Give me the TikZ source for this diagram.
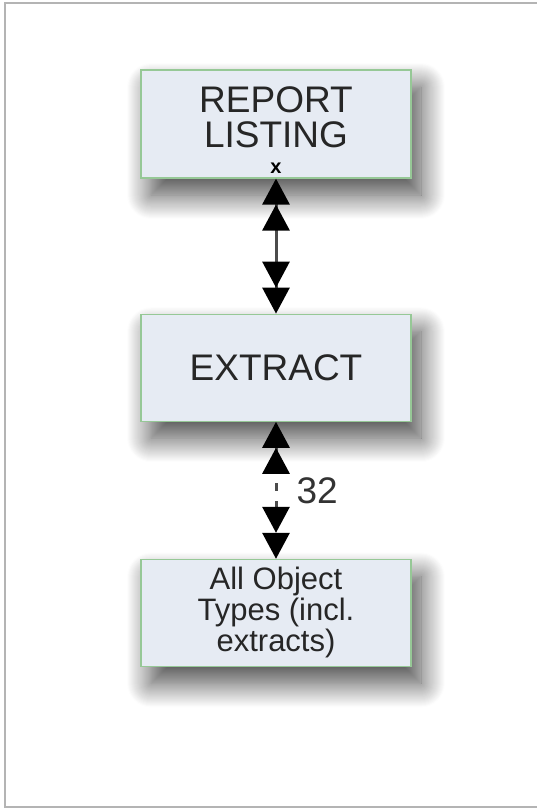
\documentclass[tikz,border=0pt]{standalone}
\usepackage{fontspec}
\setmainfont{Liberation Sans}
\usepackage{tikz}
\usetikzlibrary{positioning,arrows.meta,shadows.blur}
\definecolor{boxfill}{RGB}{230,235,243}
\definecolor{boxline}{RGB}{150,200,150}
\definecolor{frameline}{RGB}{180,180,180}

\begin{document}
\begin{tikzpicture}[
  box/.style={rectangle, draw=boxline, line width=1.2pt, fill=boxfill, minimum width=270pt, minimum height=107pt, align=center, text=black!85,
    blur shadow={shadow xshift=10pt, shadow yshift=-17pt, shadow blur radius=24pt, shadow blur steps=24, shadow opacity=72}},
  bigtext/.style={font=\fontsize{37}{35}\selectfont},
  smalltext/.style={font=\fontsize{31}{31}\selectfont},
  tips/.style={{Triangle[length=26pt,width=27pt,sep=0pt,color=black] Triangle[length=26pt,width=27pt,sep=0pt,color=black]}-{Triangle[length=26pt,width=27pt,sep=0pt,color=black] Triangle[length=26pt,width=27pt,sep=0pt,color=black]}},
  link/.style={tips, line width=3pt, draw=black!70}
]
\useasboundingbox (0,0) rectangle (537pt,-811pt);
\draw[frameline, line width=2pt] (537pt,-3pt) -- (5pt,-3pt) -- (5pt,-807pt) -- (537pt,-807pt);

\node[box, bigtext, minimum height=108pt, text depth=14pt] (report) at (276pt,-124pt) {REPORT\\LISTING};
\node[font=\fontsize{20}{20}\selectfont\bfseries, inner sep=0pt, above=5pt of report.south] (rlx) {x};
\node[box, bigtext, below=135pt of report] (extract) {EXTRACT};
\node[box, smalltext, below=137pt of extract] (alltypes) {All Object\\Types (incl.\\extracts)};

\draw[link] (report) -- (extract);
\draw[link, dashed, dash pattern=on 8pt off 10pt] (extract) -- (alltypes)
  node[midway, right=19pt, inner sep=0pt, bigtext, text=black!80] (count) {32};
\end{tikzpicture}
\end{document}
